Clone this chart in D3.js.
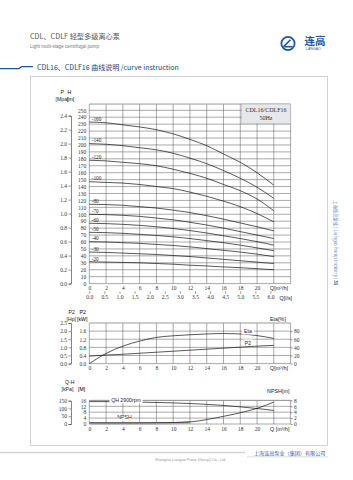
<!DOCTYPE html>
<html>
<head>
<meta charset="utf-8">
<script src="https://cdn.jsdelivr.net/npm/d3@7"></script>
<style>
  body { margin: 0; background: #fff; }
  svg { display: block; }
</style>
</head>
<body>
<script>
// ---- data ----
const qPoints = [0, 2, 4, 6, 8, 10, 12, 14, 16, 18, 20, 22];
const qTicks = [0, 2, 4, 6, 8, 10, 12, 14, 16, 18, 20];
const lsTicks = [0, 0.5, 1, 1.5, 2, 2.5, 3, 3.5, 4, 4.5, 5, 5.5, 6];
const hTicks = d3.range(0, 251, 10);
const pTicks = [0, 0.2, 0.4, 0.6, 0.8, 1.0, 1.2, 1.4, 1.6, 1.8, 2.0, 2.2, 2.4];

const stageLabels = ['-160', '-140', '-120', '-100', '-80', '-70', '-60', '-50', '-40', '-30', '-20'];
const h160 = [233, 232, 229, 226, 222, 216, 208, 199, 187, 175, 160, 142];
const h140 = [202, 201, 199, 196, 193, 188, 181, 173, 163, 152, 139, 123];
const h120 = [178, 177, 175, 173, 170, 165, 159, 152, 143, 134, 122, 105];
const h100 = [147, 146, 145, 143, 140, 137, 132, 126, 119, 111, 101, 89];
const h80 = [114.5, 114, 113, 111, 109, 106, 102.5, 98, 93, 87.5, 82, 76];
const h70 = [100, 99.5, 98.5, 97, 94.5, 92, 88.5, 84.5, 80, 75, 70, 65];
const h60 = [87, 86.5, 85.5, 84, 82, 79.5, 76.5, 73, 69, 65, 60.5, 55.5];
const h50 = [74, 73.5, 72.5, 71, 69.5, 67.5, 65, 62, 59, 55.5, 51.5, 47.5];
const h40 = [60.5, 60, 59, 58, 56.5, 55, 53, 50.5, 48, 45.5, 42.5, 39];
const h30 = [45.5, 45, 44, 43, 42, 40.5, 39, 37, 35, 33, 31, 29];
const h20 = [31.5, 31, 30.5, 30, 29, 28, 26.5, 25.5, 24, 23, 21.5, 20];
const headCurves = [h160, h140, h120, h100, h80, h70, h60, h50, h40, h30, h20];

// power / efficiency panel
const hpTicks = [0, 0.5, 1.0, 1.5, 2.0, 2.5];
const kwTicks = [0, 0.4, 0.8, 1.2, 1.6];
const etaTicks = [0, 20, 40, 60, 80];
const etaValues = [0, 25, 43, 55.5, 64.5, 68.5, 71, 73, 74, 73, 69, 62];
const p2Values = [0.37, 0.42, 0.46, 0.51, 0.56, 0.61, 0.66, 0.71, 0.76, 0.81, 0.86, 0.9];

// single stage Q-H / NPSH panel
const kpaTicks = [0, 50, 100, 150];
const mTicks = [0, 4, 8, 12, 16];
const npshTicks = [0, 2, 4, 6, 8];
const qhValues = [15.2, 15.2, 15.0, 14.8, 14.6, 14.3, 13.9, 13.3, 12.6, 11.6, 10.5, 9.2];
const npshValues = [0.4, 0.4, 0.4, 0.4, 0.45, 0.5, 0.7, 1.5, 2.6, 3.8, 5.3, 7.4];

const serif = '"Liberation Serif", "DejaVu Serif", serif';
const sans = '"Liberation Sans", "DejaVu Sans", sans-serif';
const cjk = '"Noto Sans CJK SC", sans-serif';
const blue = '#1f56a2';

const svg = d3.select('body').append('svg')
  .attr('width', 353)
  .attr('height', 480);

// ---- page header ----
svg.append('text').attr('x', 30).attr('y', 39)
  .attr('font-family', cjk).attr('font-size', 7.2).attr('fill', '#555')
  .text('CDL、CDLF 轻型多级离心泵');
svg.append('text').attr('x', 30).attr('y', 47.5)
  .attr('font-family', sans).attr('font-size', 4.6).attr('fill', '#777')
  .text('Light multi-stage centrifugal pump');

// logo
svg.append('circle').attr('cx', 288).attr('cy', 43.5).attr('r', 6.6)
  .attr('fill', 'none').attr('stroke', blue).attr('stroke-width', 1.8);
svg.append('path').attr('d', 'M283.5,46.8 L292.5,46.8 M283.5,46.8 L290.5,39.8')
  .attr('stroke', blue).attr('stroke-width', 1.6).attr('fill', 'none');
svg.append('text').attr('x', 304.5).attr('y', 45)
  .attr('font-family', cjk).attr('font-weight', 'bold').attr('font-size', 10.5).attr('fill', blue)
  .text('连高');
svg.append('text').attr('x', 305.5).attr('y', 49.8)
  .attr('font-family', sans).attr('font-size', 3.4).attr('fill', blue)
  .text('LIANGAO');

// title bar
svg.append('path').attr('d', 'M0,68.6 L19,68.6 L21.6,66.6 L33,66.6')
  .attr('fill', 'none').attr('stroke', blue).attr('stroke-width', 1.3);
svg.append('text').attr('x', 37).attr('y', 69.6)
  .attr('font-family', cjk).attr('font-size', 7).attr('fill', '#1c3f78')
  .text('CDL16、CDLF16 曲线说明 /curve instruction');

// panel frame
svg.append('rect').attr('x', 30.5).attr('y', 76.5).attr('width', 297).attr('height', 369)
  .attr('fill', 'none').attr('stroke', '#c8c8c8').attr('stroke-width', 0.8);

// side text
const side = svg.append('text')
  .attr('transform', 'translate(334,200) rotate(90)')
  .attr('font-family', cjk).attr('font-size', 4.4).attr('fill', '#5a82bf');
side.append('tspan').text('上海连高泵业 | Liangao Pump Industry | ');
side.append('tspan').attr('font-weight', 'bold').attr('fill', blue).text('31');

// footer
svg.append('line').attr('x1', 0).attr('x2', 245).attr('y1', 452.5).attr('y2', 452.5)
  .attr('stroke', '#d4d4d4').attr('stroke-width', 1.5);
svg.append('line').attr('x1', 247).attr('x2', 328).attr('y1', 456.8).attr('y2', 456.8)
  .attr('stroke', '#d4d4d4').attr('stroke-width', 0.8);
svg.append('text').attr('x', 254).attr('y', 455)
  .attr('font-family', cjk).attr('font-size', 5.1).attr('fill', '#2a5ca8')
  .text('上海连高泵业（集团）有限公司');
svg.append('text').attr('x', 155).attr('y', 460.5)
  .attr('font-family', sans).attr('font-size', 3.8).attr('fill', '#999')
  .text('Shanghai Liangao Pump (Group) Co., Ltd.');

// ---- shared helpers ----
const x = d3.scaleLinear().domain([0, 24]).range([89.3, 290.6]);
const xLs = d3.scaleLinear().domain([0, 24 / 3.6]).range(x.range());

function styleAxis(g, size) {
  g.selectAll('text')
    .attr('font-family', serif).attr('font-size', size || 5.5).attr('fill', '#333');
  g.selectAll('line').attr('stroke', '#333').attr('stroke-width', 0.5);
  g.selectAll('.domain').attr('stroke', '#333').attr('stroke-width', 0.6);
}

function grid(yScale, yVals, yTop) {
  const g = svg.append('g');
  g.selectAll('line.v').data(d3.range(0, 25, 2)).join('line')
    .attr('x1', d => x(d)).attr('x2', d => x(d))
    .attr('y1', yScale(0)).attr('y2', yTop)
    .attr('stroke', '#555').attr('stroke-width', 0.5);
  g.selectAll('line.h').data(yVals).join('line')
    .attr('x1', x(0)).attr('x2', x(24))
    .attr('y1', d => yScale(d)).attr('y2', d => yScale(d))
    .attr('stroke', '#555').attr('stroke-width', 0.5);
  g.append('line').attr('x1', x(0)).attr('x2', x(24))
    .attr('y1', yTop).attr('y2', yTop)
    .attr('stroke', '#999').attr('stroke-width', 1);
}

function header(x0, lines, y0) {
  lines.forEach((l, i) => {
    svg.append('text').attr('x', l[1]).attr('y', y0 + i * 7)
      .attr('font-family', sans).attr('font-size', 5.2).attr('fill', '#222')
      .text(l[0]);
  });
}

function qLabel(y, txt) {
  svg.append('text').attr('x', 270).attr('y', y)
    .attr('font-family', sans).attr('font-size', 5.4).attr('fill', '#222')
    .text(txt);
}

function labelBox(cx, cy, txt) {
  const w = txt.length * 3 + 3;
  svg.append('rect').attr('x', cx - w / 2).attr('y', cy - 3.2).attr('width', w).attr('height', 6.2)
    .attr('fill', '#fff');
  svg.append('text').attr('x', cx).attr('y', cy + 1.9).attr('text-anchor', 'middle')
    .attr('font-family', sans).attr('font-size', 5.2).attr('fill', '#222')
    .text(txt);
}

const curve = (yScale) => d3.line()
  .x((d, i) => x(qPoints[i]))
  .y(d => yScale(d))
  .curve(d3.curveMonotoneX);

// ---- main H-Q chart ----
const yH = d3.scaleLinear().domain([0, 250]).range([283.6, 110.3]);
const yP = d3.scaleLinear().domain([0, 2.4]).range([283.6, 115.6]);
const mainTop = yH(259);

grid(yH, hTicks, mainTop);

// legend box
svg.append('rect').attr('x', 241.7).attr('y', mainTop).attr('width', x(24) - 241.7).attr('height', 19.3)
  .attr('fill', '#e6e8ec').attr('stroke', '#aaa').attr('stroke-width', 0.5);
svg.append('text').attr('x', 266).attr('y', 112).attr('text-anchor', 'middle')
  .attr('font-family', serif).attr('font-size', 6).attr('fill', '#333').text('CDL16/CDLF16');
svg.append('text').attr('x', 266).attr('y', 119.5).attr('text-anchor', 'middle')
  .attr('font-family', serif).attr('font-size', 6).attr('fill', '#333').text('50Hz');

svg.append('g').selectAll('path').data(headCurves).join('path')
  .attr('d', curve(yH))
  .attr('fill', 'none').attr('stroke', '#111').attr('stroke-width', 0.7);

svg.append('g').selectAll('text').data(headCurves).join('text')
  .attr('x', x(0) + 2.5)
  .attr('y', d => yH(d[0]) - 1.2)
  .attr('font-family', serif).attr('font-size', 5.2).attr('fill', '#222')
  .text((d, i) => stageLabels[i]);

const pAxis = svg.append('g').attr('transform', 'translate(71,0)')
  .call(d3.axisLeft(yP).tickValues(pTicks).tickSize(2.5).tickPadding(1.5).tickFormat(d3.format('.1f')));
styleAxis(pAxis);
const hAxis = svg.append('g').attr('transform', `translate(${x(0)},0)`)
  .call(d3.axisLeft(yH).tickValues(hTicks).tickSize(0).tickPadding(3));
hAxis.select('.domain').remove();
styleAxis(hAxis);

const qAxis = svg.append('g').attr('transform', `translate(0,${yH(0)})`)
  .call(d3.axisBottom(x).tickValues(qTicks).tickSize(0).tickPadding(2.2));
qAxis.select('.domain').remove();
styleAxis(qAxis);
const lsAxis = svg.append('g').attr('transform', 'translate(0,291.3)')
  .call(d3.axisBottom(xLs).tickValues(lsTicks).tickSize(2.5).tickPadding(1.2).tickFormat(d3.format('.1f')));
lsAxis.select('.domain').remove();
styleAxis(lsAxis);

header(0, [['P', 60.5], ['[Mpa]', 55.5]], 93.5);
svg.append('text').attr('x', 67.5).attr('y', 93.5).attr('font-family', sans).attr('font-size', 5.2).text('H');
svg.append('text').attr('x', 67).attr('y', 100.5).attr('font-family', sans).attr('font-size', 5.2).text('[m]');
qLabel(290, 'Q[m³/h]');
svg.append('text').attr('x', 279.5).attr('y', 299.8)
  .attr('font-family', sans).attr('font-size', 5.4).attr('fill', '#222').text('Q[l/s]');

// ---- P2 / Eta chart ----
const yKw = d3.scaleLinear().domain([0, 2]).range([363.6, 323]);
const yHp = d3.scaleLinear().domain([0, 2.5]).range([363.6, 323]);
const yEta = d3.scaleLinear().domain([0, 100]).range([363.6, 323]);

grid(yKw, kwTicks, yKw(2));

svg.append('path').datum(etaValues).attr('d', curve(yEta))
  .attr('fill', 'none').attr('stroke', '#111').attr('stroke-width', 0.7);
svg.append('path').datum(p2Values).attr('d', curve(yKw))
  .attr('fill', 'none').attr('stroke', '#111').attr('stroke-width', 0.7);
labelBox(248, 331.5, 'Eta');
labelBox(248, 342.7, 'P2');

const hpAxis = svg.append('g').attr('transform', 'translate(71,0)')
  .call(d3.axisLeft(yHp).tickValues(hpTicks).tickSize(2.5).tickPadding(1.5).tickFormat(d3.format('.1f')));
styleAxis(hpAxis);
const kwAxis = svg.append('g').attr('transform', `translate(${x(0)},0)`)
  .call(d3.axisLeft(yKw).tickValues(kwTicks).tickSize(0).tickPadding(3).tickFormat(d3.format('.1f')));
kwAxis.select('.domain').remove();
styleAxis(kwAxis);
const etaAxis = svg.append('g').attr('transform', `translate(${x(24)},0)`)
  .call(d3.axisRight(yEta).tickValues(etaTicks).tickSize(2).tickPadding(1.5));
etaAxis.select('.domain').remove();
styleAxis(etaAxis);
const q2Axis = svg.append('g').attr('transform', `translate(0,${yKw(0)})`)
  .call(d3.axisBottom(x).tickValues(qTicks).tickSize(0).tickPadding(2.6));
q2Axis.select('.domain').remove();
styleAxis(q2Axis);

header(0, [['P2', 68.5], ['[Hp]', 66.5]], 313.5);
svg.append('text').attr('x', 79.5).attr('y', 313.5).attr('font-family', sans).attr('font-size', 5.2).text('P2');
svg.append('text').attr('x', 77).attr('y', 320.5).attr('font-family', sans).attr('font-size', 5.2).text('[kW]');
svg.append('text').attr('x', 270).attr('y', 321)
  .attr('font-family', sans).attr('font-size', 5.4).attr('fill', '#222').text('Eta[%]');
qLabel(370, 'Q[m³/h]');

// ---- single stage Q-H / NPSH chart ----
const yM = d3.scaleLinear().domain([0, 16]).range([424, 400.4]);
const yNpsh = d3.scaleLinear().domain([0, 8]).range([424, 400.4]);
const yKpa = d3.scaleLinear().domain([0, 150]).range([424, 400.7]);

grid(yM, mTicks, yM(16));

// grey band on the flat part of NPSH
svg.append('path').datum(npshValues.slice(0, 7))
  .attr('d', d3.line().x((d, i) => x(qPoints[i])).y(d => yNpsh(d) + 0.6))
  .attr('fill', 'none').attr('stroke', '#aaa').attr('stroke-width', 2.4);
svg.append('path').datum(npshValues).attr('d', curve(yNpsh))
  .attr('fill', 'none').attr('stroke', '#111').attr('stroke-width', 0.7);
svg.append('path').datum(qhValues).attr('d', curve(yM))
  .attr('fill', 'none').attr('stroke', '#111').attr('stroke-width', 0.7);
labelBox(126, 400.2, 'QH 2900rpm');
labelBox(124.5, 417.5, 'NPSH');

const kpaAxis = svg.append('g').attr('transform', 'translate(71,0)')
  .call(d3.axisLeft(yKpa).tickValues(kpaTicks).tickSize(2.5).tickPadding(1.5));
styleAxis(kpaAxis);
const mAxis = svg.append('g').attr('transform', `translate(${x(0)},0)`)
  .call(d3.axisLeft(yM).tickValues(mTicks).tickSize(0).tickPadding(3));
mAxis.select('.domain').remove();
styleAxis(mAxis);
const npshAxis = svg.append('g').attr('transform', `translate(${x(24)},0)`)
  .call(d3.axisRight(yNpsh).tickValues(npshTicks).tickSize(2).tickPadding(1.5));
npshAxis.select('.domain').remove();
styleAxis(npshAxis);
const q3Axis = svg.append('g').attr('transform', `translate(0,${yM(0)})`)
  .call(d3.axisBottom(x).tickValues(qTicks).tickSize(0).tickPadding(2.6));
q3Axis.select('.domain').remove();
styleAxis(q3Axis);

header(0, [['Q-H', 65], ['[kPa]', 61.5]], 383.5);
svg.append('text').attr('x', 78).attr('y', 390.5).attr('font-family', sans).attr('font-size', 5.2).text('[M]');
svg.append('text').attr('x', 267).attr('y', 392.5)
  .attr('font-family', sans).attr('font-size', 5.4).attr('fill', '#222').text('NPSH[m]');
qLabel(431, 'Q [m³/h]');
</script>
</body>
</html>
